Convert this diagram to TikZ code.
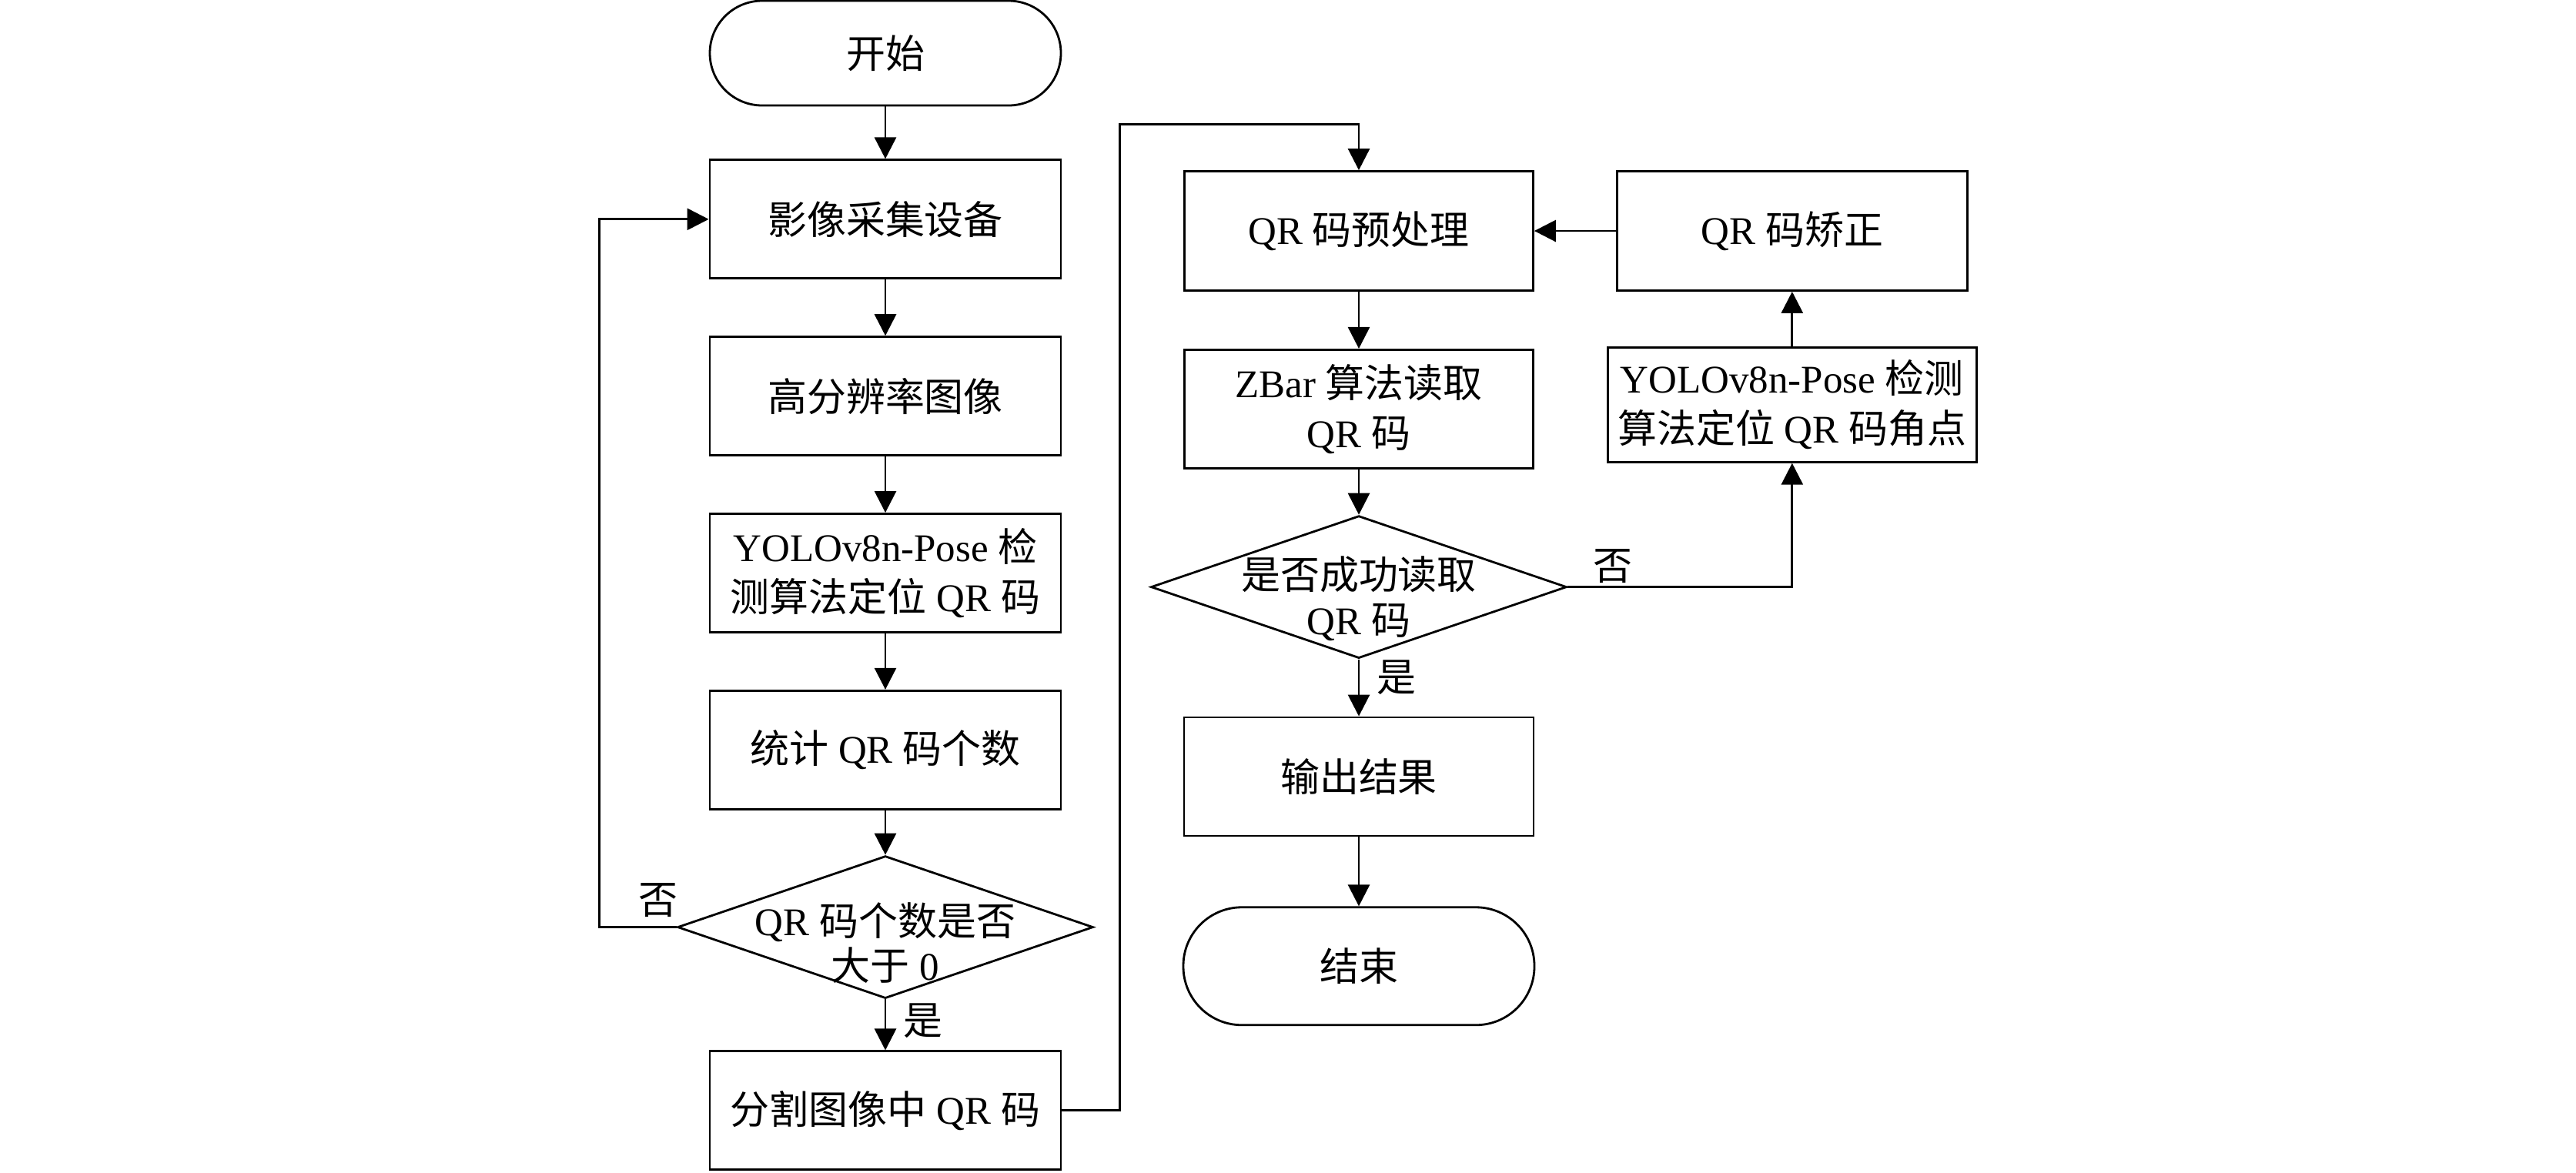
\documentclass[tikz,border=0pt]{standalone}
\usepackage{fontspec}
\setmainfont{Liberation Serif}
\newfontfamily\cjk{Noto Sans CJK SC}
\newcommand{\zh}[1]{{\cjk #1}}
\usetikzlibrary{shapes.geometric, arrows.meta, positioning}

\begin{document}
\begin{tikzpicture}[>={Triangle[length=2.8mm, width=2.8mm]}, line width=0.8pt, font=\fontsize{14.5}{18.5}\selectfont,
  box/.style={draw, align=center, minimum width=4.56cm, minimum height=1.54cm, inner sep=2pt},
  term/.style={draw, rounded corners=0.68cm, minimum width=4.56cm, minimum height=1.36cm},
  decision/.style={draw, diamond, inner sep=0pt, minimum width=5.4cm, minimum height=1.85cm}]
\useasboundingbox (0,0) rectangle (33.46,-15.23);
% left column
\node[term] (start) at (11.50,-0.69) {\zh{开始}};
\node[box, below=0.68cm of start] (capture) {\zh{影像采集设备}};
\node[box, below=0.73cm of capture] (hires) {\zh{高分辨率图像}};
\node[box, below=0.73cm of hires] (detect) {YOLOv8n-Pose \zh{检}\\\zh{测算法定位} QR \zh{码}};
\node[box, below=0.73cm of detect] (count) {\zh{统计} QR \zh{码个数}};
\node[decision, below=0.58cm of count, label={[align=center, yshift=-0.2cm, font=\fontsize{14.5}{16.5}\selectfont]center:QR \zh{码个数是否}\\\zh{大于} 0}] (check) {};
\node[box, below=0.66cm of check] (segment) {\zh{分割图像中} QR \zh{码}};
% right column
\node[box, minimum width=4.53cm, minimum height=1.55cm] (preproc) at (17.65,-3.00) {QR \zh{码预处理}};
\node[box, minimum width=4.55cm, minimum height=1.55cm, right=1.06cm of preproc] (correct) {QR \zh{码矫正}};
\node[box, minimum width=4.53cm, below=0.74cm of preproc] (zbar) {ZBar \zh{算法读取}\\QR \zh{码}};
\node[box, minimum width=4.79cm, minimum height=1.49cm, inner sep=1pt, below=0.71cm of correct] (corner) {YOLOv8n-Pose \zh{检测}\\\zh{算法定位} QR \zh{码角点}};
\node[decision, below=0.59cm of zbar, label={[align=center, yshift=-0.15cm, font=\fontsize{14.5}{17}\selectfont]center:\zh{是否成功读取}\\QR \zh{码}}] (success) {};
\node[box, minimum width=4.54cm, below=0.74cm of success] (output) {\zh{输出结果}};
\node[term, minimum height=1.53cm, rounded corners=0.76cm, below=0.90cm of output] (stop) {\zh{结束}};
% connectors
\draw[->] (start) -- (capture);
\draw[->] (capture) -- (hires);
\draw[->] (hires) -- (detect);
\draw[->] (detect) -- (count);
\draw[->] (count) -- (check);
\draw[->] (check) -- node[right, pos=0.42, xshift=1mm] {\zh{是}} (segment);
\draw[->] (check.west) -- node[above, pos=0.24] {\zh{否}} ++(-1.0,0) |- (capture.west);
\draw[->] (segment.east) -- ++(0.75,0) |- ([yshift=0.6cm]preproc.north) -- (preproc);
\draw[->] (preproc) -- (zbar);
\draw[->] (zbar) -- (success);
\draw[->] (success) -- node[right, pos=0.32, xshift=1mm] {\zh{是}} (output);
\draw[->] (output) -- (stop);
\draw[->] (success.east) -| node[above, pos=0.1, inner sep=1pt] {\zh{否}} (corner);
\draw[->] (corner) -- (correct);
\draw[->] (correct) -- (preproc);
\end{tikzpicture}
\end{document}
